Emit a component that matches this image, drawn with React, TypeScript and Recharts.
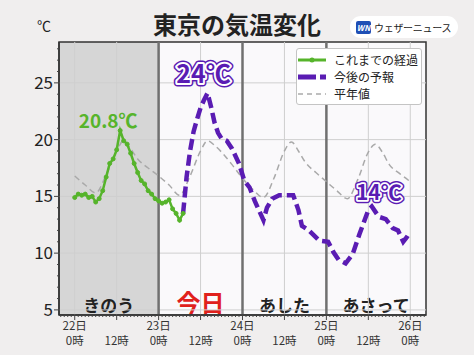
import React from 'react';
import {
  ComposedChart,
  Line,
  XAxis,
  YAxis,
  ReferenceArea,
  ReferenceLine,
  ReferenceDot,
  Legend,
} from 'recharts';

const FONT = "'Noto Sans CJK JP', 'Noto Sans', sans-serif";

// hours counted from 22日 0時
const obsHours = [0, 1, 2, 3, 4, 5, 6, 7, 8, 9, 10, 11, 12, 13, 14, 15, 16, 17, 18, 19, 20, 21, 22, 23, 24, 25, 26, 27, 28, 29, 30, 31];
const obsTemps = [14.9, 15.2, 15.1, 15.2, 14.9, 15.0, 14.5, 14.8, 15.5, 16.7, 17.9, 18.3, 19.1, 20.8, 19.9, 19.6, 18.8, 17.9, 17.1, 16.4, 16.1, 15.5, 15.2, 14.8, 14.6, 14.4, 14.5, 14.7, 13.9, 13.5, 12.9, 13.5];

const fcHours = [31, 32, 33, 34, 35, 36, 37, 38, 39, 40, 41, 42, 43.5, 45, 47, 48.5, 50, 51.5, 54, 55, 56.5, 58.5, 62.5, 64, 65, 67, 70, 72.5, 74, 75.5, 77.5, 79.5, 81.5, 84, 85, 87, 89, 91, 92.5, 94, 95, 96];
const fcTemps = [13.5, 16.7, 19.0, 20.7, 21.8, 22.8, 23.5, 24.1, 22.9, 21.5, 20.6, 20.1, 19.9, 19.2, 17.9, 16.4, 15.8, 14.6, 12.9, 14.0, 14.8, 15.1, 15.1, 13.8, 12.4, 12.0, 11.1, 11.0, 10.1, 9.4, 9.1, 9.9, 11.7, 13.8, 14.1, 13.2, 13.0, 12.2, 12.0, 11.0, 11.4, 11.9];

const normHours = [0, 3, 6, 9, 12, 14, 16, 18, 21, 24, 27, 30, 33, 36, 38, 40, 42, 45, 48, 51, 54, 57, 60, 62, 64, 66, 69, 72, 75, 78, 81, 84, 86, 88, 90, 93, 96];
const normTemps = [16.8, 16.0, 15.3, 16.9, 19.0, 19.9, 19.2, 18.3, 17.5, 16.8, 16.0, 15.1, 16.8, 19.0, 19.9, 19.5, 18.9, 17.8, 16.6, 15.6, 14.9, 16.6, 19.0, 19.8, 19.0, 18.0, 17.1, 16.3, 15.5, 14.8, 16.5, 18.9, 19.6, 18.9, 17.8, 17.0, 16.3];

const dayNames = ['22日', '23日', '24日', '25日', '26日'];
const dayRanges = [
  { name: 'きのう', from: -4.5, to: 24 },
  { name: '今日', from: 24, to: 48 },
  { name: 'あした', from: 48, to: 72 },
  { name: 'あさって', from: 72, to: 100.5 },
];
const hourTicks = Array.from({ length: 105 }, (_, i) => i - 4);
const tempTicks = Array.from({ length: 24 }, (_, i) => i + 5);
const gridHours = [0, 12, 36, 60, 84, 96];
const gridTemps = [5, 10, 15, 20, 25];
const dayLines = [24, 48, 72];

const seriesNames = { obs: 'これまでの経過', fc: '今後の予報', norm: '平年値' };

const obsData = obsHours.map((h, i) => ({ h, t: obsTemps[i] }));
const fcData = fcHours.map((h, i) => ({ h, t: fcTemps[i] }));
const normData = normHours.map((h, i) => ({ h, t: normTemps[i] }));

const GREEN = '#56b42b';
const PURPLE = '#5a1cb3';

const XTick = (props: any) => {
  const { x, y, payload } = props;
  const h = payload.value;
  const major = h % 12 === 0;
  return (
    <g>
      <line x1={x} x2={x} y1={y} y2={y + (major ? 5 : 2)} stroke="#444" strokeWidth={1} />
      {major && h % 24 === 0 && (
        <text x={x} y={y + 15} textAnchor="middle" fontSize={11.5} fill="#333" fontFamily={FONT}>
          {dayNames[h / 24]}
        </text>
      )}
      {major && (
        <text x={x} y={y + 30} textAnchor="middle" fontSize={11.5} fill="#333" fontFamily={FONT}>
          {h % 24 === 0 ? '0時' : '12時'}
        </text>
      )}
    </g>
  );
};

const YTick = (props: any) => {
  const { x, y, payload } = props;
  const v = payload.value;
  const major = v % 5 === 0;
  return (
    <g>
      <line x1={x - (major ? 5 : 2)} x2={x} y1={y} y2={y} stroke="#444" strokeWidth={1} />
      {major && (
        <text x={x - 6} y={y + 6} textAnchor="end" fontSize={17} fill="#222" fontFamily={FONT}>
          {v}
        </text>
      )}
    </g>
  );
};

const DayLabel = (props: any) => {
  const { viewBox, text, color, size } = props;
  if (!viewBox) return null;
  return (
    <text
      x={viewBox.x + viewBox.width / 2}
      y={viewBox.y + viewBox.height - 3}
      textAnchor="middle"
      fontSize={size}
      fontWeight={700}
      fill={color}
      fontFamily={FONT}
    >
      {text}
    </text>
  );
};

const PeakLabel = (props: any) => {
  const { viewBox, text, color, size, dx, dy, outline } = props;
  if (!viewBox) return null;
  const cx = viewBox.x + viewBox.width / 2 + dx;
  const cy = viewBox.y + viewBox.height / 2 + dy;
  const common = {
    x: cx,
    y: cy,
    textAnchor: 'middle' as const,
    fontSize: size,
    fontWeight: 700,
    fontFamily: FONT,
  };
  if (!outline) {
    return <text {...common} fill={color}>{text}</text>;
  }
  return (
    <g>
      <text {...common} fill={color} stroke={color} strokeWidth={outline + 3} strokeLinejoin="round">{text}</text>
      <text {...common} fill={color} stroke="#fff" strokeWidth={outline} strokeLinejoin="round" paintOrder="stroke">{text}</text>
    </g>
  );
};

const renderLegend = () => (
  <div
    style={{
      background: '#fff',
      border: '1px solid #c4c4c4',
      borderRadius: 3,
      padding: '2px 0 2px 1px',
      boxSizing: 'border-box',
      width: 126,
      fontFamily: FONT,
    }}
  >
    {[
      { key: 'obs', el: (
        <g>
          <line x1={0} x2={28} y1={5} y2={5} stroke={GREEN} strokeWidth={3} />
          <circle cx={14} cy={5} r={2.5} fill={GREEN} />
        </g>
      ) },
      { key: 'fc', el: <line x1={0} x2={28} y1={5} y2={5} stroke={PURPLE} strokeWidth={5} strokeDasharray="18 4" /> },
      { key: 'norm', el: <line x1={0} x2={28} y1={5} y2={5} stroke="#aaa" strokeWidth={1.5} strokeDasharray="5 4" /> },
    ].map((item) => (
      <div key={item.key} style={{ display: 'flex', alignItems: 'center', height: 17 }}>
        <svg width={28} height={10}>{item.el}</svg>
        <span style={{ fontSize: 12, marginLeft: 8, color: '#222', lineHeight: '17px' }}>
          {seriesNames[item.key as keyof typeof seriesNames]}
        </span>
      </div>
    ))}
  </div>
);

export default function App() {
  return (
    <div style={{ position: 'fixed', left: 0, top: 0, width: 474, height: 355, background: '#f0eeee', overflow: 'hidden' }}>
      <div style={{ position: 'absolute', left: 0, top: 0 }}>
        <ComposedChart width={474} height={355} margin={{ top: 42, right: 48, left: 0, bottom: 0 }}>
          <XAxis
            type="number"
            dataKey="h"
            domain={[-4.5, 100.5]}
            ticks={hourTicks}
            interval={0}
            allowDataOverflow
            tickLine={false}
            tickSize={0}
            tickMargin={0}
            height={40}
            axisLine={{ stroke: '#333', strokeWidth: 1.5 }}
            tick={<XTick />}
          />
          <YAxis
            type="number"
            domain={[4.55, 28.6]}
            ticks={tempTicks}
            interval={0}
            allowDataOverflow
            tickLine={false}
            tickSize={0}
            tickMargin={0}
            width={59}
            axisLine={{ stroke: '#333', strokeWidth: 1.5 }}
            tick={<YTick />}
          />
          <ReferenceArea x1={-4.5} x2={100.5} y1={4.55} y2={28.6} fill="#faf9fb" fillOpacity={1} stroke="none" />
          <ReferenceArea x1={-4.5} x2={24} y1={4.55} y2={28.6} fill="#d6d6d6" fillOpacity={1} stroke="none" />
          {gridTemps.map((v) => (
            <ReferenceLine key={'gy' + v} y={v} stroke="#cfcfcf" strokeWidth={1} />
          ))}
          {gridHours.map((v) => (
            <ReferenceLine key={'gx' + v} x={v} stroke="#cfcfcf" strokeWidth={1} />
          ))}
          {dayLines.map((v) => (
            <ReferenceLine key={'d' + v} x={v} stroke="#707070" strokeWidth={2.5} />
          ))}
          {dayRanges.map((d) => (
            <ReferenceArea
              key={d.name}
              x1={d.from}
              x2={d.to}
              y1={4.55}
              y2={28.6}
              fill="none"
              stroke="none"
              label={
                <DayLabel
                  text={d.name}
                  color={d.name === '今日' ? '#e0201c' : '#222'}
                  size={d.name === '今日' ? 24 : 17}
                />
              }
            />
          ))}
          <Line
            data={normData}
            dataKey="t"
            name={seriesNames.norm}
            type="monotone"
            stroke="#a9a9a9"
            strokeWidth={1.5}
            strokeDasharray="6 4"
            dot={false}
            isAnimationActive={false}
          />
          <Line
            data={obsData}
            dataKey="t"
            name={seriesNames.obs}
            type="linear"
            stroke={GREEN}
            strokeWidth={2.5}
            dot={{ r: 2, fill: GREEN, stroke: GREEN, strokeWidth: 1 }}
            isAnimationActive={false}
          />
          <Line
            data={fcData}
            dataKey="t"
            name={seriesNames.fc}
            type="linear"
            stroke={PURPLE}
            strokeWidth={4.5}
            strokeDasharray="11 5"
            dot={false}
            isAnimationActive={false}
          />
          <ReferenceDot x={13} y={20.8} r={1} fill="none" stroke="none"
            label={<PeakLabel text="20.8℃" color={GREEN} size={19} dx={-12} dy={-3} />} />
          <ReferenceDot x={38} y={24.1} r={1} fill="none" stroke="none"
            label={<PeakLabel text="24℃" color={PURPLE} size={25} dx={-4} dy={-10} outline={4} />} />
          <ReferenceDot x={85} y={14.1} r={1} fill="none" stroke="none"
            label={<PeakLabel text="14℃" color={PURPLE} size={21} dx={7} dy={-7} outline={3.5} />} />
          <ReferenceArea x1={-4.5} x2={100.5} y1={4.55} y2={28.6} fill="none" stroke="#333" strokeWidth={1.5} />
          <Legend
            layout="vertical"
            align="center"
            verticalAlign="middle"
            content={renderLegend}
            wrapperStyle={{ position: 'absolute', left: 296, top: 48, width: 126 }}
          />
        </ComposedChart>
      </div>
      <div style={{ position: 'absolute', left: 37, top: 15, fontSize: 14, color: '#222', fontFamily: FONT }}>℃</div>
      <div
        style={{
          position: 'absolute',
          left: 0,
          width: 474,
          top: 6,
          textAlign: 'center',
          fontSize: 24,
          fontWeight: 700,
          color: '#222',
          fontFamily: FONT,
          lineHeight: '36px',
        }}
      >
        東京の気温変化
      </div>
      <div
        style={{
          position: 'absolute',
          left: 350,
          top: 16,
          width: 108,
          height: 22,
          borderRadius: 11,
          background: '#fff',
          display: 'flex',
          alignItems: 'center',
          fontFamily: FONT,
          whiteSpace: 'nowrap',
        }}
      >
        <div
          style={{
            marginLeft: 6,
            width: 15,
            height: 13,
            background: '#1f4fb5',
            color: '#fff',
            fontSize: 8,
            fontWeight: 700,
            fontStyle: 'italic',
            lineHeight: '13px',
            textAlign: 'center',
            borderRadius: 2,
            flexShrink: 0,
          }}
        >
          WN
        </div>
        <span style={{ marginLeft: 3, fontSize: 10, color: '#222', letterSpacing: -0.3 }}>ウェザーニュース</span>
      </div>
    </div>
  );
}
